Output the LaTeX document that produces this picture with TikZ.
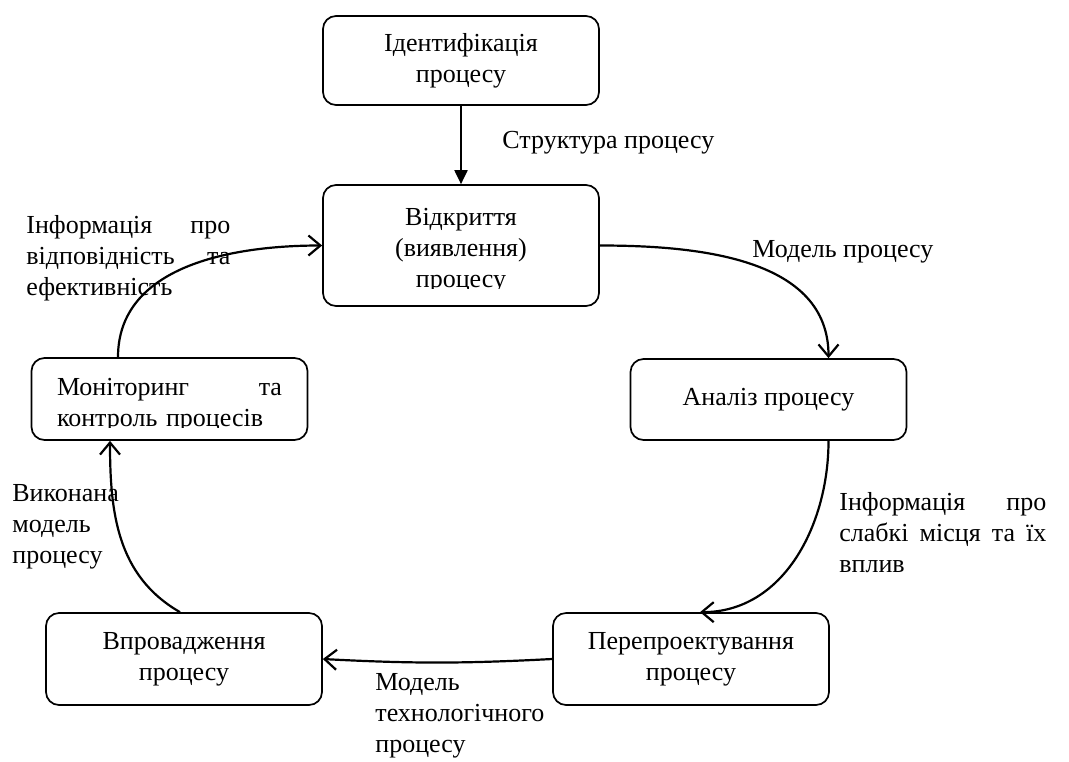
\documentclass[tikz,border=0pt]{standalone}
\usepackage{fontspec}
\setmainfont{Liberation Serif}
\usetikzlibrary{arrows.meta,positioning,calc}

\begin{document}
\begin{tikzpicture}[
    x=0.5pt, y=-0.5pt,
    font=\fontsize{13}{15.5}\selectfont,
    >={Straight Barb[length=6pt,width=10pt]},
    box/.style={draw, rounded corners=6.5pt, line width=0.85pt, minimum width=138pt,
                align=center, inner sep=0pt},
    txt/.style={inner sep=0pt},
    lbl/.style={inner sep=0pt, align=left},
    flow/.style={->, line width=1.1pt},
]
\useasboundingbox (0,0) rectangle (1069,761);

% --- process stages ---
\node[box, minimum height=44.5pt] (ident)      at (461,60.5)  {Ідентифікація\\процесу};
\node[box, minimum height=60.5pt] (vidkr)      at (461,245.5) {};
\node[box, minimum height=40.5pt] (analiz)     at (768.5,399.5) {Аналіз процесу};
\node[box, minimum height=46pt]   (pereproekt) at (691,659)   {Перепроектування\\процесу};
\node[box, minimum height=46pt]   (vprov)      at (184,659)   {Впровадження\\процесу};
\node[box, minimum height=41pt]   (mon)        at (169.5,399) {};

% text that runs past the lower edge of its box is cut off
\begin{scope}
  \clip (323,185) rectangle (599,288);
  \node[txt, align=center] (vidkrtxt) at (461,251) {Відкриття\\(виявлення)\\процесу};
\end{scope}
\begin{scope}
  \clip (32,358) rectangle (307,427);
  \node[txt, text width=112.5pt, align=left] (montxt) at (169.5,405) {Моніторинг\hfill та\\контроль процесів};
\end{scope}

% --- connectors ---
\draw[-{Triangle[length=7pt,width=6.5pt]}, line width=1pt] (ident.south) -- (vidkr.north);
\draw[flow] (vidkr.east) to[out=0,in=90] ($(analiz.north)+(60,0)$);
\draw[flow] ($(analiz.south)+(60,0)$) to[out=-90,in=0] ($(pereproekt.north)+(9,0)$);
\draw[flow] (pereproekt.west) to[bend left=3] (vprov.east);
\draw[flow] ($(vprov.north)+(-4,0)$) to[out=150,in=-90] ($(mon.south)+(-59.5,0)$);
\draw[flow] ($(mon.north)+(-51.5,0)$) to[out=90,in=180] (vidkr.west);

% --- connector labels ---
\node[lbl, anchor=west] (lstruct) at (502,143) {Структура процесу};
\node[lbl, anchor=west] (lmodel)  at (752,252) {Модель процесу};
\node[lbl, anchor=west, text width=103.5pt] (lweak) at (839,533)
     {Інформація\hfill про\\слабкі\hfill місця\hfill та\hfill їх\\вплив};
\node[lbl, anchor=west] (ltech)   at (375,716) {Модель\\технологічного\\процесу};
\node[lbl, anchor=west] (ldone)   at (12,527)  {Виконана\\модель\\процесу};
\node[lbl, anchor=west, text width=102pt] (linfo) at (26,258)
     {Інформація\hfill про\\відповідність\hfill та\\ефективність};

\end{tikzpicture}
\end{document}
